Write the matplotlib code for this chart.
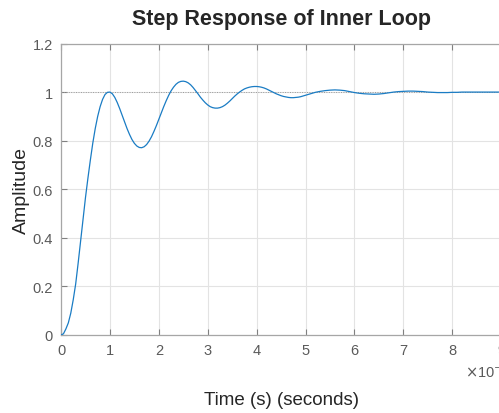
import numpy as np
import matplotlib
matplotlib.use("Agg")
import matplotlib.pyplot as plt

plt.rcParams['font.family'] = ['Liberation Sans', 'DejaVu Sans']

# time in units of 1e-4 s, amplitude
time_e4 = [0.00, 0.05, 0.10, 0.15, 0.20, 0.25, 0.30, 0.35, 0.40, 0.45,
           0.50, 0.55, 0.60, 0.65, 0.70, 0.75, 0.80, 0.85, 0.90, 0.95,
           1.00, 1.05, 1.10, 1.15, 1.20, 1.25, 1.30, 1.35, 1.40, 1.45,
           1.50, 1.55, 1.60, 1.65, 1.70, 1.75, 1.80, 1.85, 1.90, 1.95,
           2.00, 2.05, 2.10, 2.15, 2.20, 2.25, 2.30, 2.35, 2.40, 2.45,
           2.50, 2.55, 2.60, 2.65, 2.70, 2.75, 2.80, 2.85, 2.90, 2.95,
           3.00, 3.05, 3.10, 3.15, 3.20, 3.25, 3.30, 3.35, 3.40, 3.45,
           3.50, 3.55, 3.60, 3.65, 3.70, 3.75, 3.80, 3.85, 3.90, 3.95,
           4.00, 4.05, 4.10, 4.15, 4.20, 4.25, 4.30, 4.35, 4.40, 4.45,
           4.50, 4.55, 4.60, 4.65, 4.70, 4.75, 4.80, 4.85, 4.90, 4.95,
           5.0, 5.1, 5.2, 5.3, 5.4, 5.5, 5.6, 5.7, 5.8, 5.9,
           6.0, 6.1, 6.2, 6.3, 6.4, 6.5, 6.6, 6.7, 6.8, 6.9,
           7.0, 7.1, 7.2, 7.3, 7.4, 7.5, 7.6, 7.7, 7.8, 7.9,
           8.0, 8.1, 8.2, 8.4, 8.6, 8.8, 9.0, 9.2]
amplitude = [0.000, 0.005, 0.025, 0.050, 0.090, 0.145, 0.210, 0.295, 0.385, 0.475,
             0.565, 0.645, 0.720, 0.790, 0.850, 0.900, 0.940, 0.970, 0.990, 0.999,
             1.000, 0.993, 0.978, 0.957, 0.932, 0.905, 0.877, 0.850, 0.826, 0.805,
             0.789, 0.778, 0.772, 0.771, 0.775, 0.784, 0.798, 0.816, 0.838, 0.862,
             0.888, 0.914, 0.940, 0.964, 0.986, 1.005, 1.020, 1.032, 1.040, 1.044,
             1.045, 1.043, 1.038, 1.030, 1.019, 1.006, 0.993, 0.979, 0.967, 0.956,
             0.947, 0.940, 0.936, 0.934, 0.934, 0.936, 0.940, 0.946, 0.954, 0.963,
             0.973, 0.983, 0.992, 1.000, 1.007, 1.013, 1.017, 1.020, 1.022, 1.023,
             1.023, 1.022, 1.020, 1.017, 1.013, 1.008, 1.003, 0.998, 0.993, 0.989,
             0.985, 0.982, 0.980, 0.978, 0.977, 0.977, 0.978, 0.979, 0.981, 0.984,
             0.987, 0.993, 0.999, 1.003, 1.006, 1.008, 1.009, 1.008, 1.006, 1.002,
             0.998, 0.995, 0.993, 0.992, 0.991, 0.992, 0.994, 0.997, 1.000, 1.002,
             1.003, 1.004, 1.004, 1.003, 1.002, 1.000, 0.999, 0.998, 0.998, 0.998,
             0.999, 0.999, 1.000, 1.000, 1.000, 1.000, 1.000, 1.000]
steady_state = 1.0
x_ticks = [0, 1, 2, 3, 4, 5, 6, 7, 8, 9]
y_ticks = [0, 0.2, 0.4, 0.6, 0.8, 1.0, 1.2]
y_tick_labels = ['0', '0.2', '0.4', '0.6', '0.8', '1', '1.2']

W, H = 499, 414
fig = plt.figure(figsize=(W / 100, H / 100), dpi=100)
left, right = 61 / W, 511 / W
bottom, top = (H - 336) / H, (H - 44.5) / H
ax = fig.add_axes([left, bottom, right - left, top - bottom])
ax_h_px = H * (top - bottom)

axis_col = '#a6a6a6'
text_col = '#5a5a5a'

ax.plot(time_e4, amplitude, color='#1a7cc4', lw=0.9, zorder=3)
ax.axhline(steady_state, color='#9a9a9a', lw=0.7, ls=(0, (1, 1.5)), zorder=2)

ax.set_xlim(0, 9.2)
ax.set_ylim(0, 1.2)
ax.set_xticks(x_ticks)
ax.set_xticklabels([str(v) for v in x_ticks])
ax.set_yticks(y_ticks)
ax.set_yticklabels(y_tick_labels)
ax.grid(True, color='#e3e3e3', lw=0.8, zorder=0)
ax.set_axisbelow(True)
for s in ax.spines.values():
    s.set_color(axis_col)
    s.set_linewidth(0.9)
ax.tick_params(direction='in', length=4, width=0.8, color='#808080',
               labelcolor=text_col, labelsize=10.5, top=True, right=True, pad=6)

ax.set_title('Step Response of Inner Loop', fontsize=15.5, fontweight='bold',
             color='#262626', pad=14, x=0.489)
ax.set_ylabel('Amplitude', fontsize=14, color='#262626', labelpad=2)
ax.set_xlabel('Time (s) (seconds)', fontsize=13.5, color='#262626')
ax.xaxis.set_label_coords(0.489, -(392 - 336) / ax_h_px)

fig.text(465 / W, 1 - 372 / H, r'$\times$10$^{-4}$', fontsize=10.5,
         color=text_col, ha='left', va='center')

fig.savefig('out.png', dpi=100)
